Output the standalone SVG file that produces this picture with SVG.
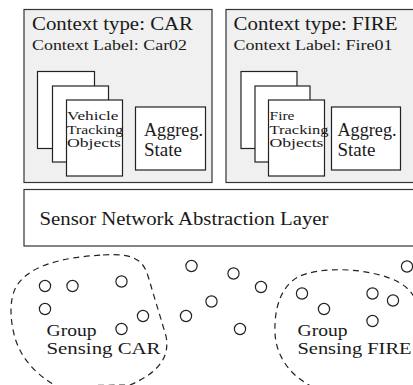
<svg xmlns="http://www.w3.org/2000/svg" width="413" height="385" viewBox="0 0 413 385">
  <style>
    .ctx { fill: #f0f0f0; stroke: #333; stroke-width: 1.2; }
    .page { fill: #fff; stroke: #222; stroke-width: 1.2; }
    .layer { fill: #fff; stroke: #333; stroke-width: 1.2; }
    .node { fill: #fff; stroke: #222; stroke-width: 1.2; }
    .group { fill: none; stroke: #222; stroke-width: 1.2; stroke-dasharray: 6 4.5; }
    text { font-family: "Liberation Serif", "Times New Roman", serif; fill: #1a1a1a; }
    .t18 { font-size: 18px; }
    .t17 { font-size: 16.5px; }
    .t15 { font-size: 15px; }
    .t13 { font-size: 13.5px; }
  </style>

  <!-- Context: CAR -->
  <g id="ctx-car">
    <rect class="ctx" x="24" y="9.5" width="188" height="173"/>
    <text class="t18" x="32" y="30" textLength="161" lengthAdjust="spacingAndGlyphs">Context type: CAR</text>
    <text class="t15" x="32" y="50" textLength="155" lengthAdjust="spacingAndGlyphs">Context Label: Car02</text>
    <rect class="page" x="37.5" y="71.5" width="57" height="77"/>
    <rect class="page" x="52.5" y="86" width="56" height="76"/>
    <rect class="page" x="66.5" y="100" width="56" height="76"/>
    <text class="t13" x="67" y="120" textLength="51.5" lengthAdjust="spacingAndGlyphs">Vehicle</text>
    <text class="t13" x="67" y="133.5" textLength="56" lengthAdjust="spacingAndGlyphs">Tracking</text>
    <text class="t13" x="67" y="147" textLength="54" lengthAdjust="spacingAndGlyphs">Objects</text>
    <rect class="page" x="135.5" y="107" width="70" height="63"/>
    <text class="t18" x="144" y="136" textLength="59" lengthAdjust="spacingAndGlyphs">Aggreg.</text>
    <text class="t18" x="144" y="156" textLength="38" lengthAdjust="spacingAndGlyphs">State</text>
  </g>

  <!-- Context: FIRE -->
  <g id="ctx-fire">
    <rect class="ctx" x="226" y="9.5" width="190" height="173"/>
    <text class="t18" x="233.5" y="30" textLength="164" lengthAdjust="spacingAndGlyphs">Context type: FIRE</text>
    <text class="t15" x="233.5" y="50" textLength="159" lengthAdjust="spacingAndGlyphs">Context Label: Fire01</text>
    <rect class="page" x="241" y="71.5" width="56" height="77"/>
    <rect class="page" x="255" y="86" width="55" height="76"/>
    <rect class="page" x="268.5" y="100" width="56" height="76"/>
    <text class="t13" x="269.5" y="120" textLength="25" lengthAdjust="spacingAndGlyphs">Fire</text>
    <text class="t13" x="269.5" y="133.5" textLength="59" lengthAdjust="spacingAndGlyphs">Tracking</text>
    <text class="t13" x="269.5" y="147" textLength="54" lengthAdjust="spacingAndGlyphs">Objects</text>
    <rect class="page" x="331.5" y="107" width="69" height="63"/>
    <text class="t18" x="337.5" y="136" textLength="59" lengthAdjust="spacingAndGlyphs">Aggreg.</text>
    <text class="t18" x="337.5" y="156" textLength="38" lengthAdjust="spacingAndGlyphs">State</text>
  </g>

  <!-- Abstraction layer -->
  <g id="layer">
    <rect class="layer" x="24" y="189.5" width="392" height="56.5"/>
    <text class="t18" x="39.5" y="225" textLength="289" lengthAdjust="spacingAndGlyphs">Sensor Network Abstraction Layer</text>
  </g>

  <!-- Sensing groups -->
  <g id="group-car">
    <path class="group" d="M103,255 C132,253 143,259 148,276 L166,336 C170,356 160,372 130,385 L56,386 C36,374 22,360 15,338 C10,320 9,300 16,287 C28,266 62,257 103,255 Z"/>
    <text class="t17" x="46.5" y="335.5" textLength="50" lengthAdjust="spacingAndGlyphs">Group</text>
    <text class="t17" x="46.5" y="354" textLength="114" lengthAdjust="spacingAndGlyphs">Sensing CAR</text>
  </g>
  <g id="group-fire">
    <path class="group" d="M313,387 C290,376 276,356 275,333 C274,306 282,286 298,277 C318,267 362,267 392,279 C412,287 420,302 420,322 L420,390"/>
    <text class="t17" x="297.5" y="336" textLength="50" lengthAdjust="spacingAndGlyphs">Group</text>
    <text class="t17" x="297.5" y="354" textLength="114" lengthAdjust="spacingAndGlyphs">Sensing FIRE</text>
  </g>

  <!-- Sensor nodes -->
  <g id="nodes">
    <circle class="node" cx="45" cy="286" r="5.6"/>
    <circle class="node" cx="72.5" cy="286" r="5.6"/>
    <circle class="node" cx="45" cy="309" r="5.6"/>
    <circle class="node" cx="121.5" cy="281.5" r="5.6"/>
    <circle class="node" cx="121.5" cy="329" r="5.6"/>
    <circle class="node" cx="143" cy="316" r="5.6"/>
    <circle class="node" cx="186" cy="316" r="5.6"/>
    <circle class="node" cx="191.5" cy="266" r="5.6"/>
    <circle class="node" cx="211.5" cy="301.5" r="5.6"/>
    <circle class="node" cx="233.5" cy="273.5" r="5.6"/>
    <circle class="node" cx="261" cy="287" r="5.6"/>
    <circle class="node" cx="240" cy="329" r="5.6"/>
    <circle class="node" cx="302" cy="293.5" r="5.6"/>
    <circle class="node" cx="324" cy="309" r="5.6"/>
    <circle class="node" cx="372.5" cy="293.5" r="5.6"/>
    <circle class="node" cx="393" cy="300.5" r="5.6"/>
    <circle class="node" cx="372.5" cy="321" r="5.6"/>
    <circle class="node" cx="407" cy="266.5" r="5.6"/>
  </g>
</svg>
